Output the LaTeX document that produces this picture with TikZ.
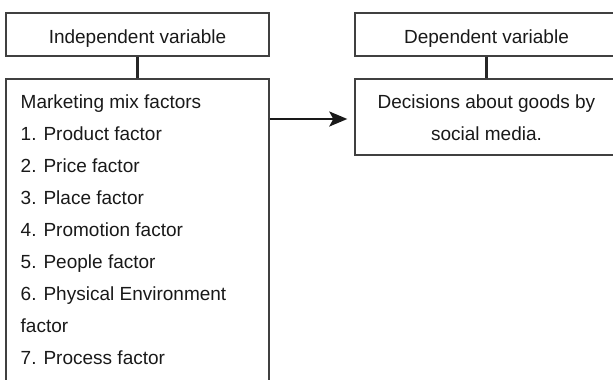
\documentclass[tikz,border=0pt]{standalone}
\usepackage{fontspec}
\setmainfont{Liberation Sans}
\usetikzlibrary{arrows.meta}

\tikzset{
	varbox/.style={draw=black!75, line width=1.4pt, inner sep=0pt, minimum width=263pt},
	vartext/.style={font=\fontsize{19}{23}\selectfont, text=black!90, inner sep=0pt, anchor=base},
	link/.style={draw=black!85, line width=2.2pt},
	flow/.style={-{Stealth[length=18pt, width=15pt, inset=4pt]}, line width=2.2pt, draw=black!90, shorten >=7pt}
}

\begin{document}
\begin{tikzpicture}[x=1pt, y=-1pt]
%	helplines
%	\draw[thin] (0,0) grid[step=50] (613,380);
	\useasboundingbox (0,0) rectangle (613,380);
	\clip (0,0) rectangle (613,380);
	
	\node (indep)[varbox, minimum height=43pt] at (137.5,34.5) {};
	\node (mix)[varbox, minimum height=320pt] at (137.5,239) {};
	
	\node (dep)[varbox, minimum height=43pt] at (486.5,34.5) {};
	\node (effect)[varbox, minimum height=76pt] at (486.5,117) {};
	
	\draw[link] (indep) -- (mix);
	\draw[link] (dep) -- (effect);
	\draw[flow] (mix.east |- 0,119) -- (effect.west |- 0,119);
	
	\node (indeptext)[vartext] at (137.5,43.3) {Independent variable};
	\node (deptext)[vartext] at (486.5,43.3) {Dependent variable};
	
	\node (effect1)[vartext] at (486.5,108) {Decisions about goods by};
	\node (effect2)[vartext] at (486.5,140) {social media.};
	
	\foreach \txt [count=\i from 0] in {Marketing mix factors, 1. Product factor, 2. Price factor, 3. Place factor, 4. Promotion factor, 5. People factor, 6. Physical Environment, factor, 7. Process factor}
		\node (mix\i)[vartext, anchor=base west] at (20.5,108+32*\i) {\txt};
	
\end{tikzpicture}
\end{document}
